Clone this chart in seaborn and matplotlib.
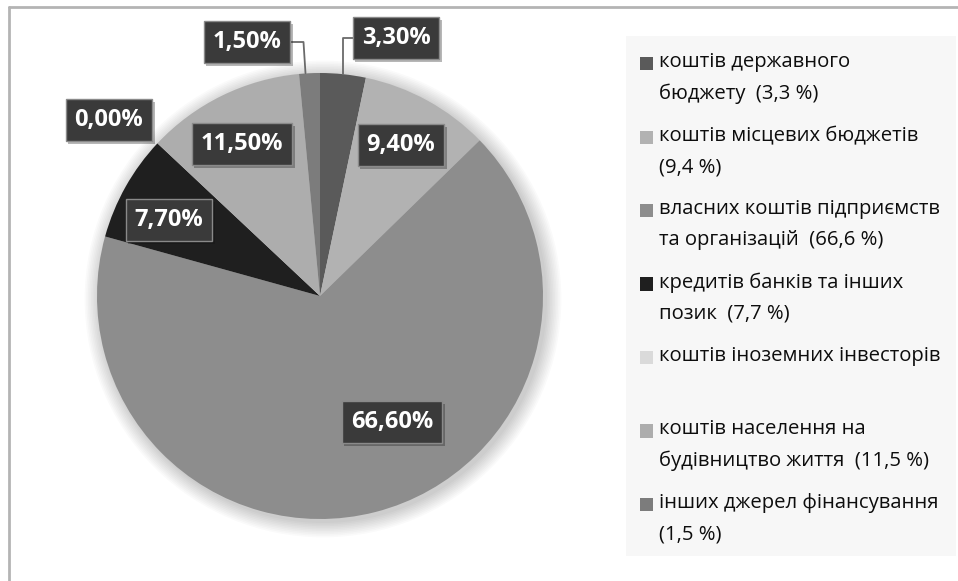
import numpy as np
import matplotlib
matplotlib.use("Agg")
import matplotlib.pyplot as plt
import matplotlib.patheffects as pe
from matplotlib.patches import Circle, Rectangle
from matplotlib.legend_handler import HandlerPatch
import seaborn as sns

# data
sources = ["коштів державного\nбюджету  (3,3 %)",
           "коштів місцевих бюджетів\n(9,4 %)",
           "власних коштів підприємств\nта організацій  (66,6 %)",
           "кредитів банків та інших\nпозик  (7,7 %)",
           "коштів іноземних інвесторів\n ",
           "коштів населення на\nбудівництво життя  (11,5 %)",
           "інших джерел фінансування\n(1,5 %)"]
shares = [3.3, 9.4, 66.6, 7.7, 0.0, 11.5, 1.5]
slice_colors = ["#5a5a5a", "#b2b2b2", "#8d8d8d", "#1f1f1f", "#dadada", "#adadad", "#7c7c7c"]

sns.set_theme(style="white")
plt.rcParams['font.family'] = ['Open Sans', 'DejaVu Sans']


class FirstLinePatch(HandlerPatch):
    # square legend key lined up with the first line of a two-line label
    def __init__(self, lift, **kw):
        super().__init__(**kw)
        self.lift = lift

    def create_artists(self, legend, orig_handle, xdescent, ydescent, width, height,
                       fontsize, trans):
        r = Rectangle((-xdescent, -ydescent + self.lift), width, height,
                      facecolor=orig_handle.get_facecolor(), edgecolor="none")
        r.set_transform(trans)
        return [r]


W, H = 958, 581
fig = plt.figure(figsize=(W / 100, H / 100), dpi=100)
ax = fig.add_axes([0, 0, 1, 1])

cx, cy, R = 320, 285, 223

# soft shadow round the pie
for k in range(10):
    ax.add_patch(Circle((cx + 3, cy - 3), R + 1 + k * 1.6, color="black",
                        alpha=0.018, lw=0, zorder=0))

wedges, _ = ax.pie(shares, colors=slice_colors, startangle=90, counterclock=False,
                   radius=R, center=(cx, cy), frame=True,
                   wedgeprops=dict(linewidth=0))
ax.set_xlim(0, W)
ax.set_ylim(0, H)
ax.axis("off")

# label placement: ("in", dist, angle) or ("out", x, y, leader side)
placement = {
    0: ("out", 396, 543, "right"),
    1: ("in", 0.769, 61.8),
    2: ("in", 0.65, -60.3),
    3: ("in", 0.758, 153.3),
    4: ("out", 109, 461, None),
    5: ("in", 0.766, 117.2),
    6: ("out", 247, 539, "left"),
}

box = dict(boxstyle="square,pad=0.38", fc="#3a3a3a", ec="#8a8a8a", lw=1)
for i, (w, v) in enumerate(zip(wedges, shares)):
    mid = np.deg2rad((w.theta1 + w.theta2) / 2)
    p = placement[i]
    if p[0] == "in":
        ang = np.deg2rad(p[2])
        x, y = cx + p[1] * R * np.cos(ang), cy + p[1] * R * np.sin(ang)
    else:
        x, y = p[1], p[2]
    t = ax.text(x, y, f"{v:.2f}%".replace(".", ","), color="white", fontsize=17,
                fontweight="bold", ha="center", va="center", bbox=box, zorder=5)
    t.get_bbox_patch().set_path_effects([pe.SimplePatchShadow(offset=(2, -2), alpha=0.3),
                                         pe.Normal()])
    if p[0] == "out" and p[3] is not None:
        ex, ey = cx + R * np.cos(mid), cy + R * np.sin(mid)
        if p[3] == "right":
            xs = [ex, ex, x - 42]
            ly = 543
        else:
            xs = [ex - 4, ex - 6, x + 42]
            ly = 539
        ax.plot(xs, [ey, ly, ly], color="#6a6a6a", lw=1.3, zorder=4)

# legend
ax.add_patch(Rectangle((626, H - 556), 330, 520, color="#f7f7f7", lw=0, zorder=0.5))
leg = ax.legend(wedges, sources, loc="upper left", bbox_to_anchor=(640 / W, 1 - 52 / H),
                frameon=False, fontsize=14.6, handlelength=0.62, handleheight=0.62,
                handletextpad=0.3, labelspacing=1.09, borderpad=0, borderaxespad=0,
                handler_map={w: FirstLinePatch(10.5) for w in wedges})
for txt in leg.get_texts():
    txt.set_color("#0d0d0d")
    txt.set_linespacing(1.74)

# outer frame (top and left edges visible)
ax.plot([9, W], [H - 7, H - 7], color="#b4b4b4", lw=2, zorder=1)
ax.plot([9, 9], [0, H - 7], color="#b4b4b4", lw=2, zorder=1)

fig.savefig("out.png", dpi=100)
